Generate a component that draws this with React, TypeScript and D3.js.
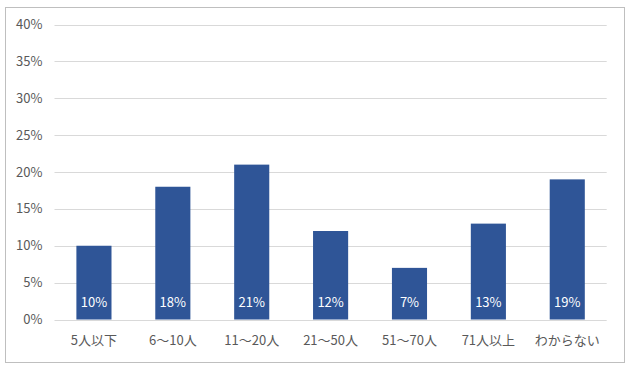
import React from "react";
import * as d3 from "d3";

const categories = ["5人以下", "6〜10人", "11〜20人", "21〜50人", "51〜70人", "71人以上", "わからない"];
const values = [10, 18, 21, 12, 7, 13, 19];
const yTicks = [0, 5, 10, 15, 20, 25, 30, 35, 40];

export default function App() {
  const W = 635, H = 372;
  const left = 54.5, right = 606.7, top = 24.5, bottom = 319.5;
  const x = d3.scaleBand<string>().domain(categories).range([left, right]).paddingInner(0.555).paddingOuter(0.2775);
  const y = d3.scaleLinear().domain([0, 40]).range([bottom, top]);
  const font = "'Noto Sans CJK JP', 'Noto Sans', sans-serif";
  return (
    <div style={{ position: "fixed", left: 0, top: 0 }}>
      <svg width={W} height={H} style={{ display: "block" }}>
        <rect x={0} y={0} width={W} height={H} fill="#ffffff" />
        <rect x={5.5} y={7.5} width={619} height={355} fill="#ffffff" stroke="#bfbfbf" strokeWidth={1} />
        {yTicks.map((t) => (
          <g key={t}>
            <line x1={left} x2={right} y1={Math.round(y(t)) + 0.5} y2={Math.round(y(t)) + 0.5} stroke="#d9d9d9" strokeWidth={1} />
            <text x={42.5} y={y(t)} dy="0.35em" textAnchor="end" fontFamily={font} fontSize={13} fill="#595959">{t}%</text>
          </g>
        ))}
        {categories.map((c, i) => (
          <g key={c}>
            <rect x={x(c)!} y={y(values[i])} width={x.bandwidth()} height={y(0) - y(values[i])} fill="#2F5597" />
            <text x={x(c)! + x.bandwidth() / 2} y={302} dy="0.35em" textAnchor="middle" fontFamily={font} fontSize={13} fill="#ffffff">{values[i]}%</text>
            <text x={x(c)! + x.bandwidth() / 2} y={340} dy="0.35em" textAnchor="middle" fontFamily={font} fontSize={13} fill="#595959">{c}</text>
          </g>
        ))}
      </svg>
    </div>
  );
}
